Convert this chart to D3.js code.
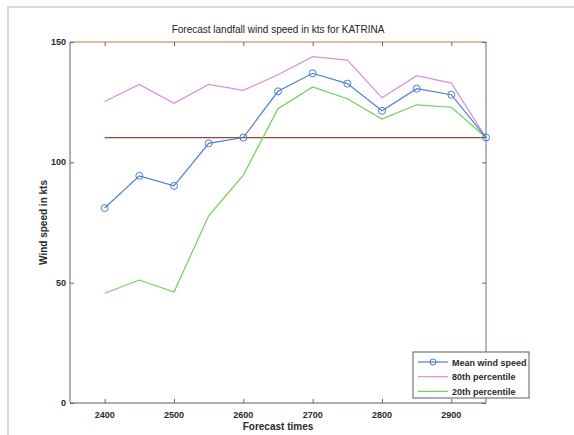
<!DOCTYPE html>
<html><head><meta charset="utf-8">
<script src="https://d3js.org/d3.v7.min.js"></script>
<style>body{margin:0;background:#fff;} svg{display:block;font-family:"Liberation Sans",Arial,sans-serif;}</style>
</head><body>
<script>
const times = [2400,2450,2500,2550,2600,2650,2700,2750,2800,2850,2900,2950];
const meanWind = [81,94.4,90.2,107.9,110.3,129.5,137,132.7,121.4,130.6,128.1,110.3];
const p80 = [125.3,132.4,124.5,132.4,129.9,136.4,143.9,142.5,126.8,136,132.9,110.3];
const p20 = [45.6,51.1,46.1,77.8,94.7,122.3,131.3,126.4,118,123.9,122.9,110.3];
const landfallLevel = 110.3;
const xTicks = [2400,2500,2600,2700,2800,2900];
const yTicks = [0,50,100,150];
const legendLabels = ["Mean wind speed","80th percentile","20th percentile"];
const title = "Forecast landfall wind speed in kts for KATRINA";

const W=574,H=435;
const svg=d3.select("body").append("svg").attr("width",W).attr("height",H);
// outer frame
svg.append("rect").attr("x",8).attr("y",7).attr("width",W).attr("height",H).attr("fill","none").attr("stroke","#d9d9d9").attr("stroke-width",2);

const L=70,R=486,T=42,B=403;
const x=d3.scaleLinear().domain([2350,2950]).range([L,R]);
const y=d3.scaleLinear().domain([0,150]).range([B,T]);

const colors={mean:"#4a7fd4",p80:"#d88fd6",p20:"#6fcf5a"};

// plot box
const g=svg.append("g");
g.append("line").attr("x1",L).attr("x2",R).attr("y1",T).attr("y2",T).attr("stroke","#d8704c").attr("stroke-width",1);
g.append("line").attr("x1",L).attr("x2",L).attr("y1",T).attr("y2",B).attr("stroke","#5b6670").attr("stroke-width",1);
g.append("line").attr("x1",R).attr("x2",R).attr("y1",T).attr("y2",B).attr("stroke","#5a7486").attr("stroke-width",1);
g.append("line").attr("x1",L).attr("x2",R).attr("y1",B).attr("y2",B).attr("stroke","#6a5a55").attr("stroke-width",1);

// ticks via axes
const axB=d3.axisBottom(x).tickValues(xTicks).tickSize(-4).tickFormat("");
const axT=d3.axisTop(x).tickValues(xTicks).tickSize(-4).tickFormat("");
const axL=d3.axisLeft(y).tickValues(yTicks).tickSize(-4).tickFormat("");
const axR=d3.axisRight(y).tickValues(yTicks).tickSize(-4).tickFormat("");
[[axB,`translate(0,${B})`],[axT,`translate(0,${T})`],[axL,`translate(${L},0)`],[axR,`translate(${R},0)`]].forEach(([a,t])=>{
  const s=svg.append("g").attr("transform",t).call(a);
  s.select(".domain").remove();
  s.selectAll(".tick line").attr("stroke","#4f6a7a");
});

// tick labels
svg.append("g").selectAll("text").data(xTicks).join("text")
 .attr("x",d=>x(d)).attr("y",B+15).attr("text-anchor","middle")
 .attr("font-size",9).attr("font-weight","bold").attr("fill","#2a2a2a").text(d=>d);
svg.append("g").selectAll("text").data(yTicks).join("text")
 .attr("x",L-4).attr("y",d=>y(d)+3).attr("text-anchor","end")
 .attr("font-size",9).attr("font-weight","bold").attr("fill","#2a2a2a").text(d=>d);

// reference line
svg.append("line").attr("x1",x(2400)).attr("x2",x(2950)).attr("y1",y(landfallLevel)).attr("y2",y(landfallLevel))
 .attr("stroke","#a4432e").attr("stroke-width",1.2);

const line=d3.line().x((d,i)=>x(times[i])).y(d=>y(d));
svg.append("path").datum(p80).attr("d",line).attr("fill","none").attr("stroke",colors.p80).attr("stroke-width",1.2);
svg.append("path").datum(p20).attr("d",line).attr("fill","none").attr("stroke",colors.p20).attr("stroke-width",1.2);
svg.append("path").datum(meanWind).attr("d",line).attr("fill","none").attr("stroke",colors.mean).attr("stroke-width",1.2);
svg.append("g").selectAll("circle").data(meanWind).join("circle")
 .attr("cx",(d,i)=>x(times[i])).attr("cy",d=>y(d)).attr("r",3.5)
 .attr("fill","none").attr("stroke",colors.mean).attr("stroke-width",1);

// title & labels
svg.append("text").attr("x",(L+R)/2).attr("y",33).attr("text-anchor","middle").attr("font-size",10).attr("fill","#222").text(title);
svg.append("text").attr("x",(L+R)/2).attr("y",430).attr("text-anchor","middle").attr("font-size",10).attr("font-weight","bold").attr("fill","#2a2a2a").text("Forecast times");
svg.append("text").attr("transform",`translate(47,${(T+B)/2}) rotate(-90)`).attr("text-anchor","middle").attr("font-size",10).attr("font-weight","bold").attr("fill","#2a2a2a").text("Wind speed in kts");

// legend
const lg=svg.append("g");
lg.append("rect").attr("x",413).attr("y",352).attr("width",116).attr("height",46).attr("fill","#fff").attr("stroke","#4f6470").attr("stroke-width",1);
const lc=[colors.mean,colors.p80,colors.p20];
legendLabels.forEach((lab,i)=>{
  const yy=362+i*14.7;
  lg.append("line").attr("x1",418).attr("x2",448).attr("y1",yy).attr("y2",yy).attr("stroke",lc[i]).attr("stroke-width",1.2);
  if(i===0) lg.append("circle").attr("cx",433).attr("cy",yy).attr("r",3).attr("fill","none").attr("stroke",lc[i]);
  lg.append("text").attr("x",452).attr("y",yy+3.5).attr("font-size",9).attr("font-weight","bold").attr("fill","#2a2a2a").text(lab);
});
</script>
</body></html>
